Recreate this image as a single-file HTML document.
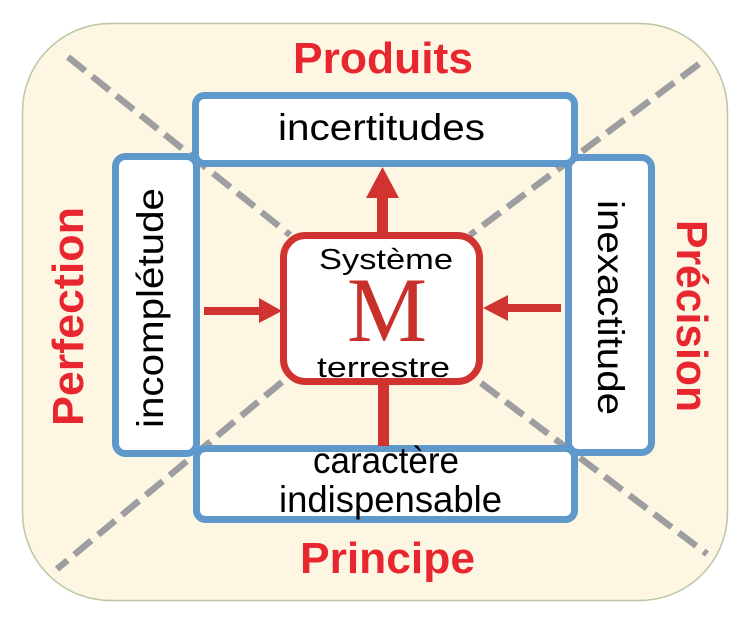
<!DOCTYPE html>
<html>
<head>
<meta charset="utf-8">
<style>
  html,body{margin:0;padding:0;background:#ffffff;}
  svg{display:block;}
  .lbl{font-family:"Liberation Sans",sans-serif;font-weight:bold;fill:#e8262f;font-size:44px;}
  .bx{font-family:"Liberation Sans",sans-serif;fill:#000;font-size:37px;}
  .ct{font-family:"Liberation Sans",sans-serif;fill:#000;font-size:29px;}
</style>
</head>
<body>
<svg width="748" height="628" viewBox="0 0 748 628" xmlns="http://www.w3.org/2000/svg">
  <!-- outer rounded background -->
  <rect x="22.5" y="23.5" width="705" height="577" rx="88" ry="88" fill="#fdf6e3" stroke="#b9c7a5" stroke-width="1.5"/>

  <!-- dashed diagonals -->
  <g stroke="#9d9ea0" stroke-width="6.5" stroke-dasharray="22 9" fill="none">
    <line x1="68" y1="57" x2="290" y2="235"/>
    <line x1="699" y1="64" x2="470" y2="235"/>
    <line x1="282" y1="382" x2="57" y2="569"/>
    <line x1="481" y1="383" x2="707" y2="554"/>
  </g>

  <!-- blue boxes -->
  <g fill="#ffffff" stroke="#5f98ca" stroke-width="7">
    <rect x="115.5" y="156.5" width="81" height="297" rx="10"/>
    <rect x="568.5" y="157.5" width="83" height="295" rx="10"/>
    <rect x="195.5" y="95.5" width="379" height="68" rx="9"/>
    <rect x="196.5" y="448.5" width="378" height="71" rx="9"/>
  </g>

  <!-- arrows -->
  <g fill="#d03330">
    <rect x="377" y="195" width="11" height="40"/>
    <polygon points="366,198 399,198 382.5,167"/>
    <rect x="204" y="307" width="58" height="8"/>
    <polygon points="259,298 259,323 282,311"/>
    <rect x="505" y="304" width="56" height="8"/>
    <polygon points="508,295 508,321 483,308"/>
    <rect x="378" y="383" width="11" height="63"/>
  </g>

  <!-- center red box -->
  <rect x="283.5" y="235.5" width="196" height="146" rx="22" fill="#ffffff" stroke="#d03330" stroke-width="7"/>

  <!-- center texts -->
  <text class="ct" x="386" y="269" text-anchor="middle" textLength="134" lengthAdjust="spacingAndGlyphs">Système</text>
  <text x="387" y="341" text-anchor="middle" font-family="'Liberation Serif',serif" font-size="92" fill="#c8302c" textLength="80" lengthAdjust="spacingAndGlyphs">M</text>
  <text class="ct" x="383.5" y="377" text-anchor="middle" textLength="133" lengthAdjust="spacingAndGlyphs">terrestre</text>

  <!-- box texts -->
  <text class="bx" x="381.5" y="140" text-anchor="middle" textLength="207" lengthAdjust="spacingAndGlyphs">incertitudes</text>
  <text class="bx" x="386" y="473" text-anchor="middle" textLength="146" lengthAdjust="spacingAndGlyphs">caractère</text>
  <text class="bx" x="390.5" y="512" text-anchor="middle" textLength="223" lengthAdjust="spacingAndGlyphs">indispensable</text>
  <text class="bx" transform="translate(163,308) rotate(-90)" x="0" y="0" text-anchor="middle" textLength="240" lengthAdjust="spacingAndGlyphs">incomplétude</text>
  <text class="bx" transform="translate(598,307.5) rotate(90)" x="0" y="0" text-anchor="middle" textLength="215" lengthAdjust="spacingAndGlyphs">inexactitude</text>

  <!-- outer labels -->
  <text class="lbl" x="383" y="73" text-anchor="middle" textLength="180" lengthAdjust="spacingAndGlyphs">Produits</text>
  <text class="lbl" x="387.5" y="573" text-anchor="middle" textLength="175" lengthAdjust="spacingAndGlyphs">Principe</text>
  <text class="lbl" transform="translate(83,316.5) rotate(-90)" x="0" y="0" text-anchor="middle" textLength="219" lengthAdjust="spacingAndGlyphs">Perfection</text>
  <text class="lbl" transform="translate(677,316) rotate(90)" x="0" y="0" text-anchor="middle" textLength="192" lengthAdjust="spacingAndGlyphs">Précision</text>
</svg>
</body>
</html>
